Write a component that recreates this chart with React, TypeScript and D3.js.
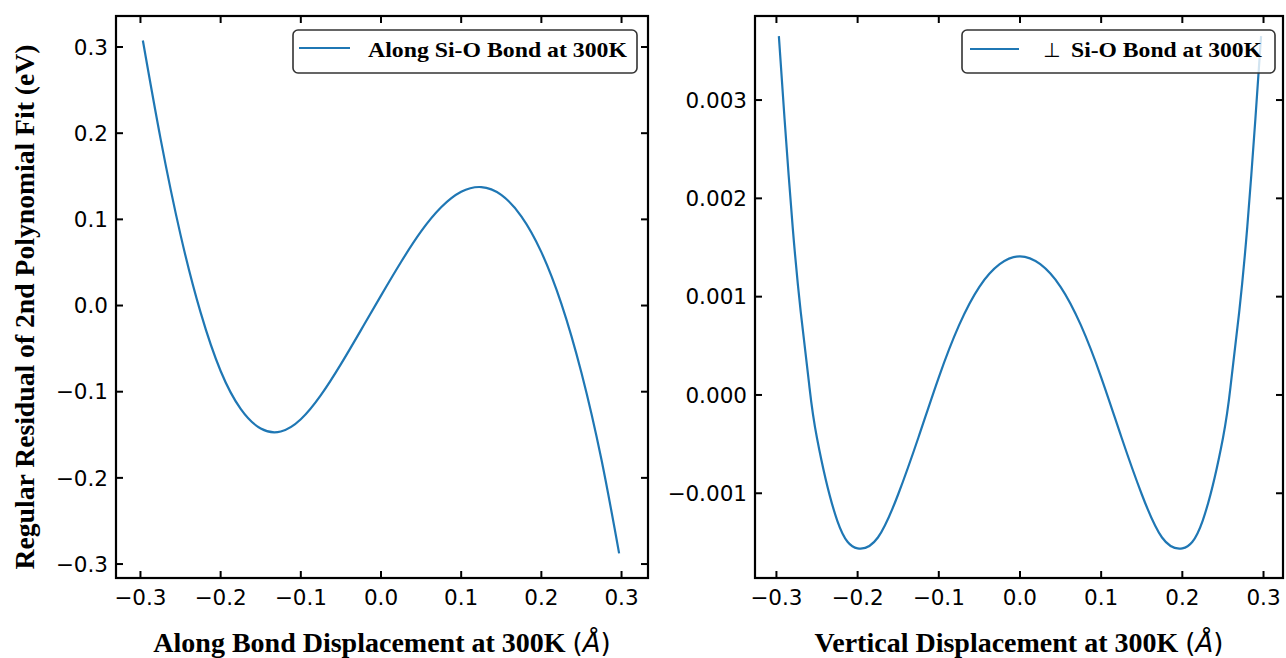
import React from "react";
import * as d3 from "d3";

// ---- data ----
const alongX = [-0.297, -0.275, -0.25, -0.225, -0.2, -0.175, -0.15, -0.125, -0.1, -0.075, -0.05, -0.025, 0, 0.025, 0.05, 0.075, 0.1, 0.125, 0.15, 0.175, 0.2, 0.225, 0.25, 0.275, 0.297];
const alongY = [0.3075, 0.194, 0.082, -0.008, -0.076, -0.12, -0.1428, -0.1462, -0.132, -0.104, -0.068, -0.0285, 0.0115, 0.0505, 0.086, 0.114, 0.132, 0.1375, 0.1285, 0.1035, 0.062, 0.002, -0.078, -0.179, -0.2876];

const perpX = [-0.297, -0.29, -0.28, -0.27, -0.26, -0.25, -0.225, -0.2, -0.175, -0.15, -0.125, -0.1, -0.075, -0.05, -0.025, 0, 0.025, 0.05, 0.075, 0.1, 0.125, 0.15, 0.175, 0.2, 0.225, 0.25, 0.26, 0.27, 0.28, 0.29, 0.297];
const perpY = [0.00365, 0.00281, 0.00171, 0.00084, 0.00013, -0.00044, -0.00128, -0.00156, -0.00145, -0.00101, -0.00043, 0.00018, 0.00071, 0.0011, 0.00133, 0.00141, 0.00133, 0.0011, 0.00071, 0.00018, -0.00043, -0.00101, -0.00145, -0.00156, -0.00128, -0.00044, 0.00013, 0.00084, 0.00171, 0.00281, 0.00365];

const xTicks = [-0.3, -0.2, -0.1, 0.0, 0.1, 0.2, 0.3];
const xTickLabels = ["\u22120.3", "\u22120.2", "\u22120.1", "0.0", "0.1", "0.2", "0.3"];
const leftYTicks = [0.3, 0.2, 0.1, 0.0, -0.1, -0.2, -0.3];
const leftYTickLabels = ["0.3", "0.2", "0.1", "0.0", "\u22120.1", "\u22120.2", "\u22120.3"];
const rightYTicks = [0.003, 0.002, 0.001, 0.0, -0.001];
const rightYTickLabels = ["0.003", "0.002", "0.001", "0.000", "\u22120.001"];

const leftLegend = "Along Si-O Bond at 300K";
const rightLegend = "Si-O Bond at 300K";
const leftXLabel = "Along Bond Displacement at 300K";
const rightXLabel = "Vertical Displacement at 300K";
const yLabel = "Regular Residual of 2nd Polynomial Fit (eV)";

const BLUE = "#1f77b4";
const TICK_FONT = "'DejaVu Sans', sans-serif";
const SERIF = "'Liberation Serif', 'Times New Roman', serif";

type PanelProps = {
  left: number; right: number; top: number; bottom: number;
  xDomain: [number, number]; yDomain: [number, number];
  xs: number[]; ys: number[];
  yTicks: number[]; yTickLabels: string[];
  xLabel: string;
  legend: React.ReactNode;
};

function Panel(p: PanelProps) {
  const x = d3.scaleLinear().domain(p.xDomain).range([p.left, p.right]);
  const y = d3.scaleLinear().domain(p.yDomain).range([p.bottom, p.top]);
  const pts = p.xs.map((v, i) => [v, p.ys[i]] as [number, number]);
  const line = d3.line<[number, number]>().x(d => x(d[0])).y(d => y(d[1])).curve(d3.curveNatural);
  const tl = 7;
  const cx = (p.left + p.right) / 2;
  return (
    <g>
      <path d={line(pts) || ""} fill="none" stroke={BLUE} strokeWidth={2.2} />
      {xTicks.map((t, i) => (
        <g key={"x" + i}>
          <line x1={x(t)} x2={x(t)} y1={p.bottom} y2={p.bottom - tl} stroke="#000" strokeWidth={2} />
          <line x1={x(t)} x2={x(t)} y1={p.top} y2={p.top + tl} stroke="#000" strokeWidth={2} />
          <text x={x(t)} y={p.bottom + 27} fontSize={21.5} fontFamily={TICK_FONT} textAnchor="middle" fill="#000">{xTickLabels[i]}</text>
        </g>
      ))}
      {p.yTicks.map((t, i) => (
        <g key={"y" + i}>
          <line x1={p.left} x2={p.left + tl} y1={y(t)} y2={y(t)} stroke="#000" strokeWidth={2} />
          <line x1={p.right} x2={p.right - tl} y1={y(t)} y2={y(t)} stroke="#000" strokeWidth={2} />
          <text x={p.left - 8} y={y(t) + 7.7} fontSize={21.5} fontFamily={TICK_FONT} textAnchor="end" fill="#000">{p.yTickLabels[i]}</text>
        </g>
      ))}
      {p.legend}
      <rect x={p.left} y={p.top} width={p.right - p.left} height={p.bottom - p.top} fill="none" stroke="#000" strokeWidth={2.2} />
      <text x={cx} y={652} fontSize={28} fontFamily={SERIF} fontWeight="bold" textAnchor="middle" fill="#000">
        {p.xLabel + " "}
        <tspan fontFamily={TICK_FONT} fontWeight="normal" fontSize={26}>(</tspan>
        <tspan fontFamily={TICK_FONT} fontStyle="italic" fontWeight="normal" fontSize={26}>Å</tspan>
        <tspan fontFamily={TICK_FONT} fontWeight="normal" fontSize={26}>)</tspan>
      </text>
    </g>
  );
}

export default function App() {
  const top = 16, bottom = 578;
  return (
    <svg width={1286} height={658} style={{ display: "block", position: "absolute", left: 0, top: 0 }}>
      <rect x={0} y={0} width={1286} height={658} fill="#fff" />
      <Panel
        left={116} right={648} top={top} bottom={bottom}
        xDomain={[-0.3305, 0.333]} yDomain={[-0.3162, 0.336]}
        xs={alongX} ys={alongY}
        yTicks={leftYTicks} yTickLabels={leftYTickLabels}
        xLabel={leftXLabel}
        legend={
          <g>
            <rect x={293} y={30} width={344} height={43} rx={5} fill="#fff" fillOpacity={0.8} stroke="#333" strokeWidth={1.6} />
            <line x1={299} x2={350} y1={48} y2={48} stroke={BLUE} strokeWidth={2.2} />
            <text x={368} y={57} fontSize={22} fontFamily={SERIF} fontWeight="bold" fill="#000" textLength={259} lengthAdjust="spacingAndGlyphs">{leftLegend}</text>
          </g>
        }
      />
      <Panel
        left={755} right={1283} top={top} bottom={bottom}
        xDomain={[-0.3264, 0.324]} yDomain={[-0.001862, 0.003855]}
        xs={perpX} ys={perpY}
        yTicks={rightYTicks} yTickLabels={rightYTickLabels}
        xLabel={rightXLabel}
        legend={
          <g>
            <rect x={962} y={30} width={313} height={43} rx={5} fill="#fff" fillOpacity={0.8} stroke="#333" strokeWidth={1.6} />
            <line x1={970} x2={1019} y1={49} y2={49} stroke={BLUE} strokeWidth={2.2} />
            <text x={1043} y={57} fontSize={20} fontFamily={TICK_FONT} fill="#000">⊥</text>
            <text x={1071} y={57} fontSize={22} fontFamily={SERIF} fontWeight="bold" fill="#000" textLength={191} lengthAdjust="spacingAndGlyphs">{rightLegend}</text>
          </g>
        }
      />
      <text transform={`translate(34, ${(top + bottom) / 2 + 10}) rotate(-90)`} fontSize={27.5} fontFamily={SERIF} fontWeight="bold" textAnchor="middle" fill="#000" textLength={525} lengthAdjust="spacingAndGlyphs">{yLabel}</text>
    </svg>
  );
}
